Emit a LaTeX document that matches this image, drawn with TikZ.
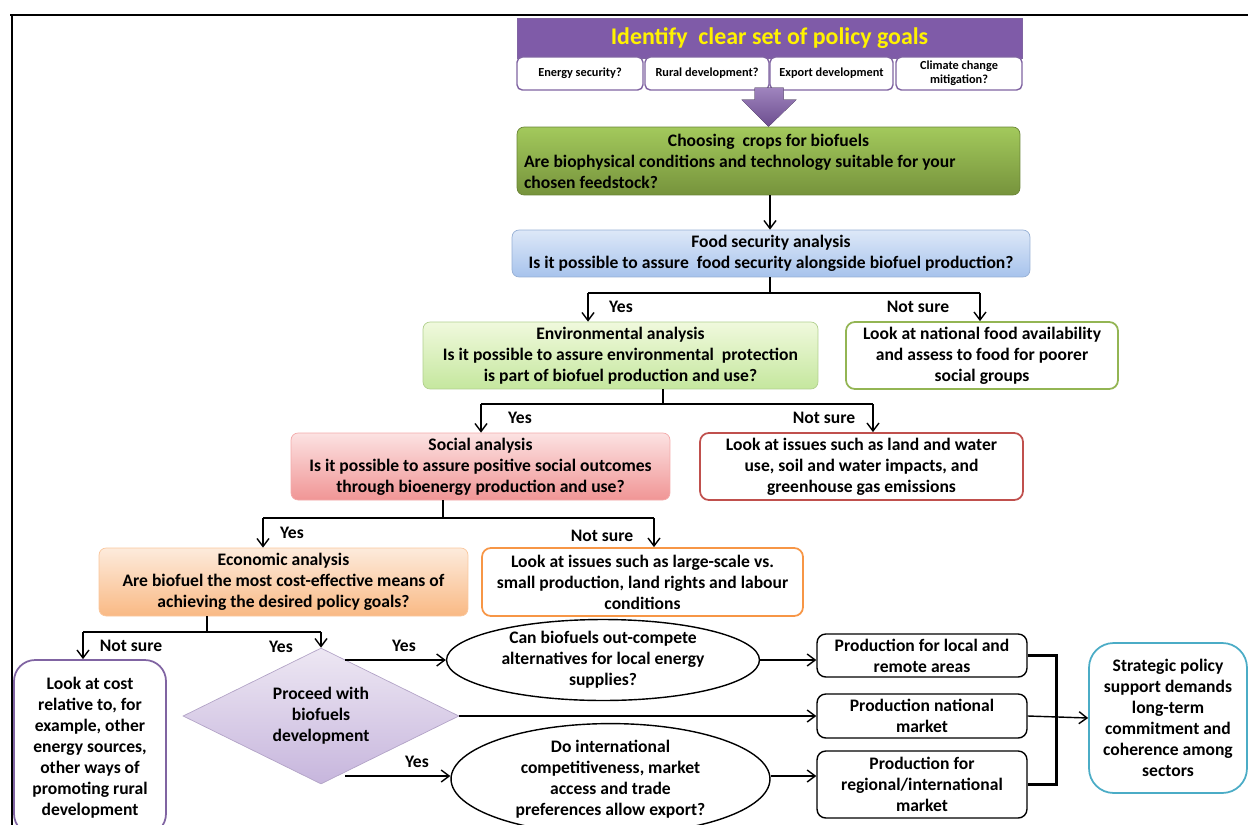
\documentclass[tikz,border=0pt]{standalone}
\usepackage{fontspec}
\setmainfont{Carlito}
\usepackage{xcolor}
\usetikzlibrary{arrows.meta,positioning,shapes.geometric,calc}
\definecolor{goalpurple}{HTML}{7F5BA8}
\definecolor{goalline}{HTML}{8064A2}
\definecolor{cropstop}{HTML}{A3C95C}
\definecolor{cropsbot}{HTML}{76933C}
\definecolor{foodtop}{HTML}{DDE8F8}
\definecolor{foodbot}{HTML}{A7C3EC}
\definecolor{envtop}{HTML}{F0F9DD}
\definecolor{envbot}{HTML}{C5E79E}
\definecolor{soctop}{HTML}{FCE2E2}
\definecolor{socbot}{HTML}{F09595}
\definecolor{econtop}{HTML}{FDEBDC}
\definecolor{econbot}{HTML}{F9B984}
\definecolor{diatop}{HTML}{EDE7F3}
\definecolor{diabot}{HTML}{C7B6DD}
\definecolor{envline}{HTML}{C0504D}
\definecolor{socline}{HTML}{F79646}
\definecolor{stratline}{HTML}{4BACC6}
\tikzset{
  subgoal/.style  = {draw=goalline, fill=white, rounded corners=3pt, thick,
                     minimum height=0.66cm, inner sep=1pt, align=center,
                     font=\fontsize{7}{8}\selectfont\bfseries},
  stage/.style    = {rounded corners=4pt, align=center, inner sep=2pt,
                     font=\fontsize{10}{12}\selectfont\bfseries},
  notebox/.style  = {rounded corners=5pt, fill=white, line width=1pt, align=center,
                     inner sep=2pt, font=\fontsize{10}{12}\selectfont\bfseries},
  prodbox/.style  = {draw=black, rounded corners=5pt, fill=white, thick, align=center,
                     minimum width=4.2cm, inner sep=1pt,
                     font=\fontsize{10}{12}\selectfont\bfseries},
  question/.style = {ellipse, draw=black, thick, fill=white, align=center, inner sep=0pt,
                     font=\fontsize{10}{12}\selectfont\bfseries},
  answer/.style   = {font=\fontsize{10}{12}\selectfont\bfseries, inner sep=0pt},
  arr/.style      = {-{Straight Barb[length=1.6mm,width=2.4mm]}, thick},
  branch/.style   = {line width=1.2pt},
}
\begin{document}
\begin{tikzpicture}[x=0.02cm, y=-0.02cm]
  \useasboundingbox (0,0) rectangle (1248,825);
  \draw[line width=1.2pt] (10,15) -- (1248,15);
  \draw[line width=1.2pt] (12,15) -- (12,825);

  % policy goals
  \node[fill=goalpurple, draw=goalline, minimum width=10.1cm, minimum height=0.8cm,
        inner sep=0pt, text=yellow, font=\fontsize{13.6}{15}\selectfont\bfseries]
        (goals) at (769.5,38) {Identify~ clear set of policy goals};
  \node[subgoal, minimum width=2.52cm] (g1) at (580,73.5) {Energy security?};
  \node[subgoal, minimum width=2.48cm] (g2) at (707,73.5) {Rural development?};
  \node[subgoal, minimum width=2.46cm] (g3) at (831.5,73.5) {Export development};
  \node[subgoal, minimum width=2.52cm] (g4) at (959,73.5) {Climate change\\mitigation?};

  % analysis chain
  \node[stage, top color=cropstop, bottom color=cropsbot, draw=cropsbot!90!black,
        minimum width=10.06cm, minimum height=1.36cm, inner xsep=0.14cm, align=left]
        (crops) at (768.5,161)
        {\makebox[9.78cm][c]{Choosing~ crops for biofuels}\\
         Are biophysical conditions and technology suitable for your\\
         chosen feedstock?};
  \fill[top color=goalpurple!75, bottom color=goalpurple!85!black]
        ($(crops.north)+(-14,-39)$) -- ($(crops.north)+(15,-39)$)
        -- ($(crops.north)+(15,-27)$) -- ($(crops.north)+(28,-27)$)
        -- (crops.north) -- ($(crops.north)+(-27,-27)$)
        -- ($(crops.north)+(-14,-27)$) -- cycle;
  \node[stage, top color=foodtop, bottom color=foodbot, draw=foodbot!90!black,
        minimum width=10.36cm, minimum height=0.94cm] (food) at (771,253.5)
        {Food security analysis\\Is it possible to assure~ food security alongside biofuel production?};
  \node[stage, top color=envtop, bottom color=envbot, draw=envbot!90!black,
        minimum width=7.9cm, minimum height=1.34cm] (env) at (620.5,355.5)
        {Environmental analysis\\Is it possible to assure environmental~ protection\\is part of biofuel production and use?};
  \node[notebox, draw=cropstop!90!black, minimum width=5.44cm, minimum height=1.34cm]
        (foodnote) at (982,355.5)
        {Look at national food availability\\and assess to food for poorer\\social groups};
  \node[stage, top color=soctop, bottom color=socbot, draw=socbot!80,
        minimum width=7.58cm, minimum height=1.34cm] (social) at (480.5,466.5)
        {Social analysis\\Is it possible to assure positive social outcomes\\through bioenergy production and use?};
  \node[notebox, draw=envline, minimum width=6.46cm, minimum height=1.34cm]
        (envnote) at (861.5,466.5)
        {Look at issues such as land and water\\use, soil and water impacts, and\\greenhouse gas emissions};
  \node[stage, top color=econtop, bottom color=econbot, draw=econbot!80,
        minimum width=7.38cm, minimum height=1.36cm] (econ) at (283.5,582)
        {Economic analysis\\Are biofuel the most cost-effective means of\\achieving the desired policy goals?};
  \node[notebox, draw=socline, minimum width=6.42cm, minimum height=1.36cm]
        (socnote) at (642.5,582)
        {Look at issues such as large-scale vs.\\small production, land rights and labour\\conditions};
  \node[notebox, draw=goalline, rounded corners=12pt, minimum width=3.04cm, minimum height=3.5cm]
        (costnote) at (90,747.5)
        {Look at cost\\relative to, for\\example, other\\energy sources,\\other ways of\\promoting rural\\development};

  % proceeding
  \node[diamond, aspect=2, minimum width=5.52cm, minimum height=2.72cm, inner sep=0pt,
        top color=diatop, bottom color=diabot, draw=diabot!90!black, align=center,
        font=\fontsize{10}{12}\selectfont\bfseries]
        (proceed) at (321,716) {Proceed with\\biofuels\\development};
  \node[question, minimum width=6.26cm, minimum height=1.28cm] (local) at (603,660)
        {Can biofuels out-compete\\alternatives for local energy\\supplies?};
  \node[question, minimum width=6.38cm, minimum height=1.96cm] (export) at (610.5,779)
        {Do international\\competitiveness, market\\access and trade\\preferences allow export?};
  \node[prodbox, minimum height=0.86cm] (prod1) at (922,655.5) {Production for local and\\remote areas};
  \node[prodbox, minimum height=0.88cm] (prod2) at (922,716)   {Production national\\market};
  \node[prodbox, minimum height=1.34cm] (prod3) at (922,784.5) {Production for\\regional/international\\market};
  \node[notebox, draw=stratline, rounded corners=14pt, minimum width=3.16cm,
        minimum height=3cm] (strategy) at (1168,718)
        {Strategic policy\\support demands\\long-term\\commitment and\\coherence among\\sectors};

  % branch points
  \coordinate (fsplit) at (770,293);
  \coordinate (fyes)   at (588,293);
  \coordinate (fno)    at (980,293);
  \coordinate (esplit) at (663,404);
  \coordinate (eyes)   at (481,404);
  \coordinate (eno)    at (873,404);
  \coordinate (ssplit) at (443,518);
  \coordinate (syes)   at (263,518);
  \coordinate (sno)    at (654,518);
  \coordinate (csplit) at (207,632);
  \coordinate (cno)    at (83,632);
  \coordinate (cyes)   at (321,632);
  \coordinate (dyes1)  at (345,660);
  \coordinate (dyes2)  at (345,776);

  \draw[arr] (crops.south -| fsplit) -- (fsplit |- food.north);

  \draw[branch] (food.south -| fsplit) -- (fsplit);
  \draw[branch] (fyes) -- (fno);
  \draw[arr] (fyes) -- (fyes |- env.north);
  \draw[arr] (fno) -- (fno |- foodnote.north);
  \node[answer] (fyeslab) at (621,307) {Yes};
  \node[answer] (fnolab)  at (918,307) {Not sure};

  \draw[branch] (env.south -| esplit) -- (esplit);
  \draw[branch] (eyes) -- (eno);
  \draw[arr] (eyes) -- (eyes |- social.north);
  \draw[arr] (eno) -- (eno |- envnote.north);
  \node[answer] (eyeslab) at (520,418) {Yes};
  \node[answer] (enolab)  at (824,418) {Not sure};

  \draw[branch] (social.south -| ssplit) -- (ssplit);
  \draw[branch] (syes) -- (sno);
  \draw[arr] (syes) -- (syes |- econ.north);
  \draw[arr] (sno) -- (sno |- socnote.north);
  \node[answer] (syeslab) at (292,533) {Yes};
  \node[answer] (snolab)  at (602,536) {Not sure};

  \draw[branch] (econ.south -| csplit) -- (csplit);
  \draw[branch] (cno) -- (cyes);
  \draw[arr] (cno) -- (cno |- costnote.north);
  \draw[arr] (cyes) -- (proceed.north);
  \node[answer] (cnolab)  at (131,646) {Not sure};
  \node[answer] (cyeslab) at (281,647) {Yes};

  \draw[arr] (dyes1) -- (local.west);
  \draw[arr] (proceed.east) -- (prod2.west);
  \draw[arr] (dyes2) -- (dyes2 -| export.west);
  \node[answer] (dyes1lab) at (404,646) {Yes};
  \node[answer] (dyes2lab) at (417,762) {Yes};

  \draw[arr] (local.east) -- (local.east -| prod1.west);
  \draw[arr] (dyes2 -| export.east) -- (dyes2 -| prod3.west);
  \draw[line width=1.6pt] (prod1.east) -- ++(29,0) |- (prod3.east);
  \draw[arr] (prod2.east) -- (strategy.west);
\end{tikzpicture}
\end{document}
